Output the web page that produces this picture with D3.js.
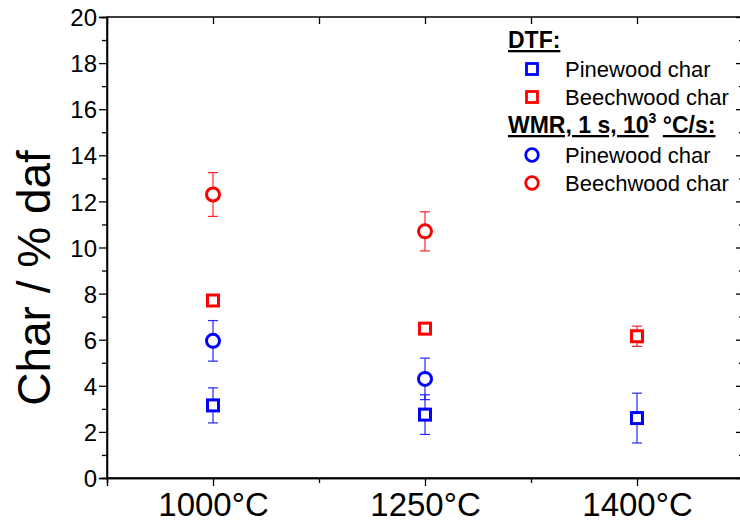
<!DOCTYPE html>
<html>
<head>
<meta charset="utf-8">
<script src="https://cdn.jsdelivr.net/npm/d3@7/dist/d3.min.js"></script>
<style>
  body { margin: 0; background: #fff; }
  svg { font-family: Arial, 'Liberation Sans', sans-serif; }
</style>
</head>
<body>
<svg id="chart" width="740" height="529"></svg>
<script>
// temperatures (categories)
const temps = ['1000°C', '1250°C', '1400°C']
const yTicks = [0, 2, 4, 6, 8, 10, 12, 14, 16, 18, 20]

// DTF series
const dtfPine = [3.15, 2.75, 2.6]
const dtfPineErr = [0.76, 0.86, 1.08]
const dtfBeech = [7.7, 6.48, 6.15]
const dtfBeechErr = [0, 0, 0.44]

// WMR series (no value at 1400°C)
const wmrPine = [5.95, 4.3, null]
const wmrPineErr = [0.88, 0.9, null]
const wmrBeech = [12.3, 10.7, null]
const wmrBeechErr = [0.95, 0.85, null]

const series = [
  { name: 'Pinewood char', values: dtfPine, err: dtfPineErr, color: '#0000ff', shape: 'square' },
  { name: 'Beechwood char', values: dtfBeech, err: dtfBeechErr, color: '#ff0000', shape: 'square' },
  { name: 'Pinewood char', values: wmrPine, err: wmrPineErr, color: '#0000ff', shape: 'circle' },
  { name: 'Beechwood char', values: wmrBeech, err: wmrBeechErr, color: '#ff0000', shape: 'circle' }
]

const margin = { top: 17, right: -3, bottom: 51, left: 107 }
const W = 740, H = 529
const svg = d3.select('#chart')

const x = d3.scaleLinear()
  .domain([0.5, temps.length + 0.5])
  .range([margin.left, W - margin.right])

const y = d3.scaleLinear()
  .domain([0, 20])
  .range([H - margin.bottom, margin.top])

const majorX = temps.map((d, i) => i + 1)
const minorX = d3.range(0.5, temps.length + 1, 1)
const minorY = d3.range(1, 20, 2)

// bottom axis, outward ticks
const gx = svg.append('g')
  .attr('transform', `translate(0,${y(0)})`)
gx.call(d3.axisBottom(x).tickValues(minorX).tickSize(5).tickFormat(''))
gx.append('g').call(d3.axisBottom(x).tickValues(majorX).tickSize(8)
  .tickFormat(d => temps[d - 1]))
gx.selectAll('text')
  .attr('font-size', 33)
  .attr('font-family', 'Arial, Liberation Sans, sans-serif')
  .attr('fill', '#000')
  .attr('y', 9)
  .attr('dy', '0.88em')

// left axis, outward ticks
const gy = svg.append('g')
  .attr('transform', `translate(${x(0.5)},0)`)
gy.call(d3.axisLeft(y).tickValues(minorY).tickSize(5).tickFormat(''))
gy.append('g').call(d3.axisLeft(y).tickValues(yTicks).tickSize(8))
gy.selectAll('text')
  .attr('font-size', 24)
  .attr('font-family', 'Arial, Liberation Sans, sans-serif')
  .attr('fill', '#000')
  .attr('x', -10)
  .attr('dy', '0.36em')

// top and right axes, inward ticks
const gt = svg.append('g').attr('transform', `translate(0,${y(20)})`)
gt.call(d3.axisBottom(x).tickValues(majorX.concat(minorX)).tickSize(7).tickFormat(''))
const gr = svg.append('g').attr('transform', `translate(${x(temps.length + 0.5)},0)`)
gr.call(d3.axisLeft(y).tickValues(yTicks).tickSize(7).tickFormat(''))
gr.append('g').call(d3.axisLeft(y).tickValues(minorY).tickSize(4).tickFormat(''))
gt.selectAll('.domain').remove()
gr.selectAll('.domain').remove()

svg.selectAll('.domain, .tick line')
  .attr('stroke', '#000')
  .attr('stroke-width', 1.3)

svg.append('rect')
  .attr('x', x(0.5))
  .attr('y', y(20))
  .attr('width', x(temps.length + 0.5) - x(0.5))
  .attr('height', y(0) - y(20))
  .attr('fill', 'none')
  .attr('stroke', '#000')
  .attr('stroke-width', 1.5)

// y title
svg.append('text')
  .attr('transform', 'translate(50,278) rotate(-90)')
  .attr('text-anchor', 'middle')
  .attr('font-size', 46)
  .text('Char / % daf')

// error bars and markers
const plot = svg.append('g')
series.forEach(s => {
  const pts = s.values.map((v, i) => ({ i: i + 1, v: v, e: s.err[i] })).filter(p => p.v !== null)
  const eb = plot.append('g')
    .attr('stroke', s.color)
    .attr('stroke-width', 1.2)
    .attr('opacity', 0.85)
  pts.filter(p => p.e > 0).forEach(p => {
    eb.append('line')
      .attr('x1', x(p.i)).attr('x2', x(p.i))
      .attr('y1', y(p.v - p.e)).attr('y2', y(p.v + p.e))
    ;[p.v - p.e, p.v + p.e].forEach(v => {
      eb.append('line')
        .attr('x1', x(p.i) - 5).attr('x2', x(p.i) + 5)
        .attr('y1', y(v)).attr('y2', y(v))
    })
  })
  const mk = plot.append('g')
    .attr('fill', '#fff')
    .attr('stroke', s.color)
    .attr('stroke-width', 3)
  if (s.shape === 'square') {
    mk.selectAll('rect').data(pts).enter().append('rect')
      .attr('x', d => x(d.i) - 5.5)
      .attr('y', d => y(d.v) - 5.5)
      .attr('width', 11)
      .attr('height', 11)
  } else {
    mk.selectAll('circle').data(pts).enter().append('circle')
      .attr('cx', d => x(d.i))
      .attr('cy', d => y(d.v))
      .attr('r', 6.5)
  }
})

// legend
const legend = svg.append('g')
legend.append('text')
  .attr('x', 508).attr('y', 48)
  .attr('font-size', 23).attr('font-weight', 'bold')
  .attr('text-decoration', 'underline')
  .text('DTF:')

const wmrTitle = legend.append('text')
  .attr('x', 508).attr('y', 133)
  .attr('font-size', 23).attr('font-weight', 'bold')
wmrTitle.append('tspan').attr('text-decoration', 'underline').text('WMR, 1 s, 10')
wmrTitle.append('tspan').attr('font-size', 14).attr('dy', -10).text('3')
wmrTitle.append('tspan').attr('dy', 10).text(' ')
wmrTitle.append('tspan').attr('text-decoration', 'underline').text('°C/s:')

const legendRows = [69, 97, 155, 183]
series.forEach((s, k) => {
  const ly = legendRows[k]
  if (s.shape === 'square') {
    legend.append('rect')
      .attr('x', 532 - 5.5).attr('y', ly - 5.5)
      .attr('width', 11).attr('height', 11)
      .attr('fill', '#fff').attr('stroke', s.color).attr('stroke-width', 2.8)
  } else {
    legend.append('circle')
      .attr('cx', 532).attr('cy', ly).attr('r', 6.3)
      .attr('fill', '#fff').attr('stroke', s.color).attr('stroke-width', 2.8)
  }
  legend.append('text')
    .attr('x', 565).attr('y', ly + 8)
    .attr('font-size', 22)
    .text(s.name)
})
</script>
</body>
</html>
